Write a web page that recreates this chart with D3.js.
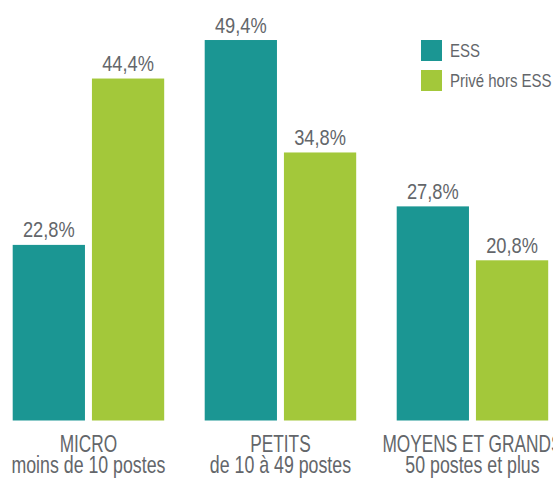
<!DOCTYPE html>
<html>
<head>
<meta charset="utf-8">
<script src="https://cdn.jsdelivr.net/npm/d3@7"></script>
<style>
  html, body { margin: 0; padding: 0; background: #fff; }
  svg { display: block; }
  text { font-family: "Liberation Sans", Arial, sans-serif; fill: #63666a; }
</style>
</head>
<body>
<svg id="chart" width="553" height="479"></svg>
<script>
const categories = ["MICRO", "PETITS", "MOYENS ET GRANDS"];
const subLabels = ["moins de 10 postes", "de 10 à 49 postes", "50 postes et plus"];
const seriesNames = ["ESS", "Privé hors ESS"];
const essValues = [22.8, 49.4, 27.8];
const priveValues = [44.4, 34.8, 20.8];
const colors = ["#1b9693", "#a3c83a"];

const svg = d3.select("#chart");

const x0 = d3.scaleBand().domain(categories).range([12.7, 548.2]).paddingInner(0.211).paddingOuter(0);
const x1 = d3.scaleBand().domain(seriesNames).range([0, x0.bandwidth()]).paddingInner(0.088).paddingOuter(0);
const y = d3.scaleLinear().domain([0, 50]).range([420.5, 35.4]);

const fmt = v => d3.format(".1f")(v).replace(".", ",") + "%";
const cond = (x, yy, k) => `translate(${x},${yy}) scale(${k},1)`;

const data = categories.map((c, i) => ({
  cat: c, sub: subLabels[i],
  vals: [{s: seriesNames[0], v: essValues[i]}, {s: seriesNames[1], v: priveValues[i]}]
}));

const g = svg.selectAll("g.grp").data(data).join("g")
  .attr("class", "grp")
  .attr("transform", d => `translate(${x0(d.cat)},0)`);

g.selectAll("rect").data(d => d.vals).join("rect")
  .attr("x", d => x1(d.s))
  .attr("y", d => y(d.v))
  .attr("width", x1.bandwidth())
  .attr("height", d => y(0) - y(d.v))
  .attr("fill", (d, i) => colors[i]);

g.selectAll("text.val").data(d => d.vals).join("text")
  .attr("class", "val")
  .attr("transform", d => cond(x1(d.s) + x1.bandwidth() / 2, y(d.v) - 7.5, 0.83))
  .attr("text-anchor", "middle")
  .style("font-size", "22px")
  .text(d => fmt(d.v));

g.append("text")
  .attr("transform", cond(x0.bandwidth() / 2, 451.5, 0.72))
  .attr("text-anchor", "middle")
  .style("font-size", "24px")
  .text(d => d.cat);

g.append("text")
  .attr("transform", cond(x0.bandwidth() / 2, 473, 0.74))
  .attr("text-anchor", "middle")
  .style("font-size", "24px")
  .text(d => d.sub);

// legend
const leg = svg.append("g").selectAll("g").data(seriesNames).join("g")
  .attr("transform", (d, i) => `translate(421,${40 + i * 30})`);
leg.append("rect").attr("width", 21).attr("height", 21).attr("fill", (d, i) => colors[i]);
leg.append("text").attr("transform", cond(29, 17, 0.81)).style("font-size", "18.5px").text(d => d);
</script>
</body>
</html>
